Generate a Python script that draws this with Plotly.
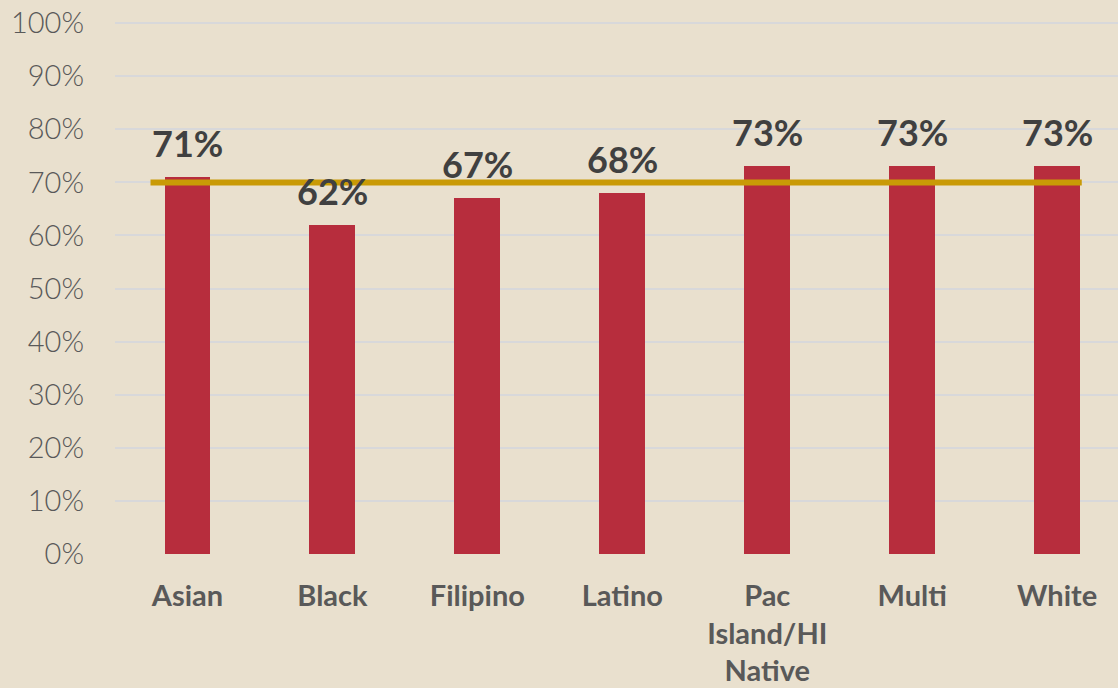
import plotly.graph_objects as go

# Data
categories = ['Asian', 'Black', 'Filipino', 'Latino', 'Pac<br>Island/HI<br>Native', 'Multi', 'White']
values = [71, 62, 67, 68, 73, 73, 73]
target = 70
y_ticks = list(range(0, 101, 10))
y_tick_labels = [f'{v}%' for v in y_ticks]

bg = '#E9E0CE'
bar_color = '#B72D3D'
gold = '#C99A06'
grid = '#D8D8DA'
text_dark = '#404040'
text_gray = '#595959'
font_family = 'Lato, Open Sans, sans-serif'

positions = list(range(len(categories)))

fig = go.Figure()
fig.add_trace(go.Bar(x=positions, y=values, width=0.317, marker=dict(color=bar_color, line=dict(width=0)),
                     hoverinfo='skip'))

# target line
fig.add_shape(type='line', xref='x', yref='y', x0=positions[0] - 0.255, x1=positions[-1] + 0.17,
              y0=target, y1=target, line=dict(color=gold, width=6), layer='above')

# value labels
for p, v in zip(positions, values):
    fig.add_annotation(x=p, y=v, text=f'<b>{v}%</b>', showarrow=False, yanchor='bottom', yshift=10,
                       font=dict(family=font_family, size=36, color=text_dark))

fig.update_layout(width=1118, height=688, margin=dict(l=115, r=0, t=21, b=134, autoexpand=False),
                  paper_bgcolor=bg, plot_bgcolor=bg, showlegend=False, bargap=0,
                  font=dict(family=font_family))
fig.update_xaxes(range=[-0.5, 6.42], tickvals=positions, ticktext=[f'<b>{c}</b>' for c in categories],
                 tickfont=dict(size=29, color=text_gray), showgrid=False, zeroline=False, showline=False,
                 ticks='', ticklabelstandoff=22, automargin=False)
fig.update_yaxes(range=[0, 100.4], tickvals=y_ticks, ticktext=y_tick_labels,
                 tickfont=dict(size=29, color=text_gray, weight=300), showgrid=True, gridcolor=grid,
                 gridwidth=2, zeroline=False, showline=False, ticks='', ticklabelstandoff=30,
                 automargin=False)

fig.write_html('out.html', config={'displayModeBar': False},
               post_script="document.body.style.margin='0';")
